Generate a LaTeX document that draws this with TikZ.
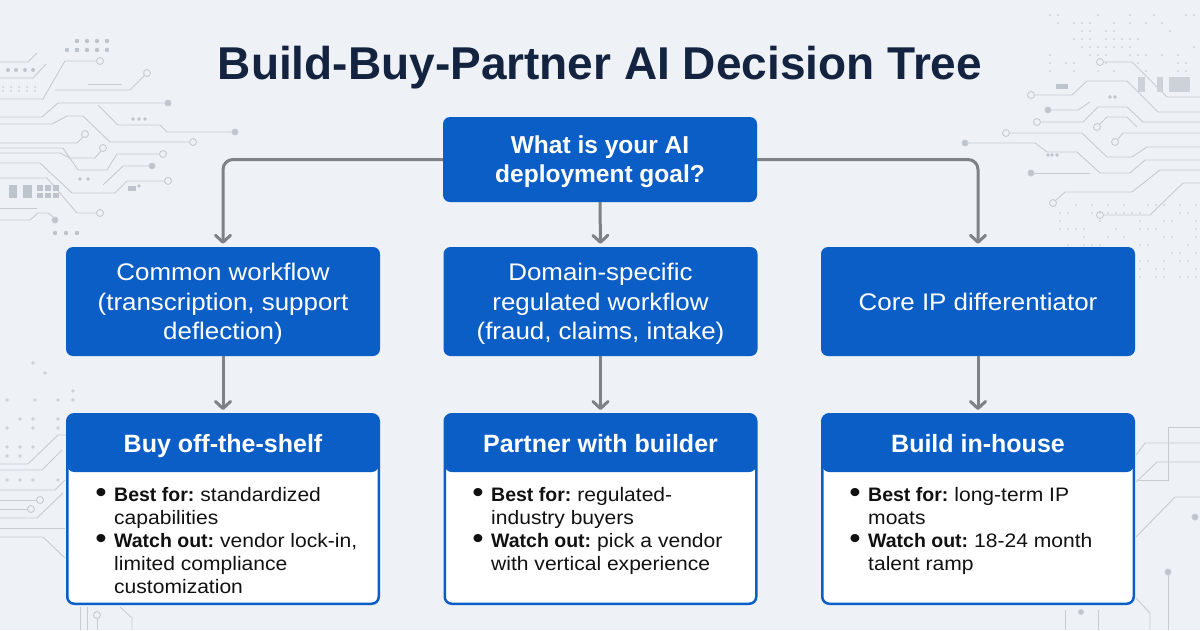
\documentclass[tikz,border=0pt]{standalone}
\usepackage{fontspec}
\setmainfont{Liberation Sans}[UprightFeatures={FakeStretch=1.08},BoldFeatures={FakeStretch=1.0}]
\newfontfamily\titlefont{Liberation Sans}
\usetikzlibrary{arrows.meta}
\definecolor{bg}{HTML}{EEF1F5}
\definecolor{mainblue}{HTML}{0C5EC7}
\definecolor{navy}{HTML}{14233F}
\definecolor{conncol}{HTML}{7E8287}
\definecolor{deco}{HTML}{C7CCD3}
\definecolor{decodot}{HTML}{BEC4CC}
\definecolor{decofaint}{HTML}{CDD2D9}
\definecolor{bodytext}{HTML}{111111}
\newcommand\bitem{\llap{\raisebox{-1.5pt}{\fontsize{30}{23}\selectfont\textbullet}\hspace{7.5pt}}}
\newcommand\lbl[1]{\textbf{#1}\hspace{6pt}}
\tikzset{
  qbox/.style={rectangle, rounded corners=7pt, fill=mainblue, text=white, align=center, inner sep=0pt, minimum width=314pt},
  rootbox/.style={qbox, minimum height=85pt, font=\bfseries\fontsize{24.5}{29}\selectfont},
  choicebox/.style={qbox, minimum height=109pt, font=\fontsize{24}{29.5}\selectfont},
  resultbox/.style={rectangle, rounded corners=7pt, draw=mainblue, line width=2.5pt, fill=white,
    minimum width=311.5pt, minimum height=189.5pt, inner sep=0pt,
    path picture={\fill[mainblue] (path picture bounding box.north west) rectangle ([yshift=-57.75pt]path picture bounding box.north east);}},
  hdr/.style={anchor=base, text=white, font=\bfseries\fontsize{25}{30}\selectfont, inner sep=0pt},
  bodytxt/.style={anchor=base west, text=bodytext, font=\fontsize{19.5}{23}\selectfont, inner sep=0pt},
  conn/.style={draw=conncol, line width=3pt, -{Straight Barb[length=7pt,width=15pt,round]}, shorten >=3pt},
  decoline/.style={draw=deco, line width=0.9pt},
  decoring/.style={draw=deco, line width=0.9pt, fill=bg},
  decofull/.style={draw=deco, line width=0.9pt, fill=decodot},
}
\begin{document}
\begin{tikzpicture}[x=1pt,y=-1pt]
\fill[bg] (0,0) rectangle (1200,630);
\useasboundingbox (0,0) rectangle (1200,630);

% ---------- decorative circuit pattern ----------
\begin{scope}
% left top
\draw[decoline] (0,62)--(28,62)--(37,53);
\draw[decoline] (0,78)--(33,78)--(46,64);
\draw[decoline] (0,99)--(43,99)--(65,61)--(96.5,61);
\draw[decoring] (100,61) circle (3.5pt);
\draw[decoline] (55,90)--(130,90)--(144.5,75.5);
\draw[decoring] (147,73) circle (3.5pt);
\draw[decoline] (88,84)--(122,84);
\draw[decoline] (0,117)--(42,117)--(58,103)--(164.5,103);
\draw[decofull] (168,103) circle (3pt);
\draw[decoline] (98,105)--(118,125)--(160,125)--(167,132)--(231.5,132);
\draw[decofull] (235,132) circle (3pt);
\draw[decoline] (0,124)--(52,124)--(67,116)--(83,116)--(110,142)--(189.5,142);
\draw[decoring] (193,142) circle (3.5pt);
\draw[decoline] (0,143)--(77,143)--(83,137);
\draw[decoring] (85,134) circle (3.5pt);
\draw[decoline] (0,148)--(63,148)--(78,170)--(107,170)--(117,154)--(159.5,154);
\draw[decoring] (163,154) circle (3.5pt);
\draw[decoline] (0,153)--(60,153)--(70,158)--(95,158)--(101,151);
\draw[decoring] (103,148) circle (3.5pt);
\draw[decoline] (0,163)--(40,163)--(72,193)--(115,193)--(127,181)--(164.5,181);
\draw[decoring] (168,181) circle (3.5pt);
\draw[decoline] (103,185)--(123,166)--(148.5,166);
\draw[decofull] (152,166) circle (3pt);
\draw[decoline] (0,178)--(47,178)--(77,213)--(96.5,213);
\draw[decoring] (100,213) circle (3.5pt);
\draw[decoline] (0,208)--(37,208);
\draw[decoline] (0,220)--(30,220)--(38,213)--(48,213)--(53,217);
\draw[decofull] (55,220) circle (3pt);
\foreach \x in {77,87,97,107} \fill[decodot] (\x,41) circle (2.2pt);
\foreach \x in {67,87,97,107} \fill[decodot] (\x,50) circle (2.2pt);
\fill[decodot] (75,48) rectangle (79,52);
\foreach \x in {8,16,25,33} \fill[decodot] (\x,70) circle (2pt);
\foreach \x in {3,11,19,27,35} {\fill[decofaint] (\x,87) circle (1.1pt); \fill[decofaint] (\x,91) circle (1.1pt);}
\foreach \x in {133,139,145} \fill[decodot] (\x,119) circle (1.8pt);
\foreach \x in {80,88} \fill[decodot] (\x,179) circle (1.8pt);
\foreach \x in {55,66,77} \fill[decodot] (\x,233) circle (2.2pt);
\fill[decodot] (128,186) rectangle (136,191);
\fill[decodot] (139,186) circle (1.8pt);
\fill[decodot] (9,185) rectangle (17,198);
\fill[decodot] (23,185) rectangle (32,198);
\foreach \x in {37,45,53} {\fill[decodot] (\x,185) rectangle (\x+6,191); \fill[decodot] (\x,193) rectangle (\x+6,198);}
% right top
\draw[decoline] (1103.5,62)--(1132,62)--(1167,97)--(1200,97);
\draw[decoring] (1100,62) circle (3.5pt);
\draw[decoline] (1034.5,95)--(1072,95)--(1087,81)--(1127,81)--(1158,112)--(1200,112);
\draw[decoring] (1031,95) circle (3.5pt);
\draw[decoline] (1051.5,110)--(1078,110)--(1090,102);
\draw[decofull] (1048,110) circle (3pt);
\draw[decoline] (1040.5,122)--(1083,122)--(1098,107)--(1127,107)--(1143,122)--(1200,122);
\draw[decoring] (1037,122) circle (3.5pt);
\draw[decoline] (1099.5,124.5)--(1107,117)--(1127,117)--(1137,127);
\draw[decoring] (1097,127) circle (3.5pt);
\draw[decoline] (1009.5,133)--(1082,133)--(1107,157)--(1132,157)--(1147,147)--(1200,147);
\draw[decoring] (1006,133) circle (3.5pt);
\draw[decoline] (1117.5,139.5)--(1123,133)--(1200,133);
\draw[decoring] (1115,142) circle (3.5pt);
\draw[decoline] (968,143)--(1035,143)--(1047,152)--(1077,152)--(1100,173)--(1130,173)--(1145,160)--(1200,160);
\draw[decofull] (965,143) circle (3pt);
\draw[decoline] (1034,173)--(1090,173);
\draw[decofull] (1031,173) circle (3pt);
\draw[decoline] (1055.5,200.5)--(1065,192)--(1132,192)--(1160,170)--(1200,170);
\draw[decoring] (1053,203) circle (3.5pt);
\draw[decoline] (1103.5,215)--(1150,215)--(1183,183)--(1200,183);
\draw[decoring] (1100,215) circle (3.5pt);
\foreach \x in {1048,1052,1057} \fill[decodot] (\x,155) circle (1.8pt);
\foreach \x in {1110,1115} \fill[decodot] (\x,97) circle (1.8pt);
\fill[decofaint] (1138,77) rectangle (1145,92);
\fill[decofaint] (1157,77) rectangle (1163,92);
\fill[decofaint] (1169,77) rectangle (1190,92);
\fill[decodot] (1056,84) rectangle (1068,89);
\pgfmathsetseed{7}
\foreach \x in {1050,1058,...,1194} \foreach \y in {15,23,...,71} {
  \pgfmathtruncatemacro\keep{rnd>0.6}
  \ifnum\keep=1 \fill[decofaint] (\x,\y) circle (1pt); \fi}
\foreach \x in {1060,1068,...,1196} \foreach \y in {205,213,...,277} {
  \pgfmathtruncatemacro\keep{rnd>0.55}
  \ifnum\keep=1 \fill[decofaint] (\x,\y) circle (1pt); \fi}
% left bottom
\foreach \p in {(33,363),(45,373),(73,391),(7,400),(35,400),(58,400),(73,400),(20,419),(33,419),(58,419),(7,428),(33,428),(58,428),(7,447),(20,447),(33,447),(7,456),(20,456),(7,480),(20,480),(33,480),(58,480)}
  \fill[decofaint] \p circle (1.8pt);
\draw[decoline] (0,464)--(28,464)--(58,435)--(66,435);
\draw[decoline] (0,470)--(42,470)--(62,450);
\draw[decoline] (0,490)--(55,490)--(65,480);
\draw[decoline] (0,500)--(36.5,500);
\draw[decoring] (40,500) circle (3.5pt);
\draw[decoline] (0,509)--(27.5,509);
\draw[decoring] (31,509) circle (3.5pt);
\draw[decoline] (0,518)--(37,518)--(63,493);
\draw[decoline] (0,528)--(65,528);
\draw[decoline] (0,537)--(43,537)--(65,558);
\draw[decoline] (80,607)--(80,630);
\draw[decoline] (87,607)--(87,630);
\draw[decoline] (97,618.5)--(97,630);
\draw[decoring] (97,615) circle (3.5pt);
\draw[decoline] (120,607)--(132,618)--(132,630);
% right bottom
\draw[decoline] (1136,455)--(1145,443)--(1200,443);
\draw[decoline] (1200,427)--(1168,427)--(1168,480)--(1137,480);
\draw[decoline] (1136,482)--(1157,462)--(1200,462);
\draw[decoline] (1136,537)--(1175,497)--(1200,497);
\draw[decofull] (1195,517) circle (3pt);
\draw[decofull] (1168,572) circle (3pt);
\draw[decoline] (1168,575)--(1168,630);
\draw[decoline] (1136,598)--(1150,613)--(1150,630);
\draw[decoline] (1065,610)--(1065,630);
\draw[decoline] (1098,610)--(1098,630);
\draw[decofull] (1081,612) circle (2.5pt);
\end{scope}

% ---------- title ----------
\node[anchor=base, text=navy, font=\titlefont\bfseries\fontsize{46}{50}\selectfont, inner sep=0pt] (title) at (600,79) {Build-Buy-Partner AI Decision Tree};

% ---------- decision nodes ----------
\node[rootbox] (root) at (600,159.5) {\rule{0pt}{22pt}What is your AI\\deployment goal?};
\node[choicebox] (c1) at (223,301.5) {\rule{0pt}{22pt}Common workflow\\(transcription, support\\deflection)};
\node[choicebox] (c2) at (600.5,301.5) {\rule{0pt}{22pt}Domain-specific\\regulated workflow\\(fraud, claims, intake)};
\node[choicebox] (c3) at (978,301.5) {Core IP differentiator};

% ---------- result boxes ----------
\node[resultbox] (r1) at (223,509) {};
\node[resultbox] (r2) at (600.5,509) {};
\node[resultbox] (r3) at (978,509) {};
\node[hdr] (h1) at (223,452) {Buy off-the-shelf};
\node[hdr] (h2) at (600.5,452) {Partner with builder};
\node[hdr] (h3) at (978,452) {Build in-house};
\node[bodytxt] (b1) at (114,501) {\begin{tabular}[t]{@{}l@{}}\bitem\lbl{Best for:}standardized\\capabilities\\\bitem\lbl{Watch out:}vendor lock-in,\\limited compliance\\customization\end{tabular}};
\node[bodytxt] (b2) at (491,501) {\begin{tabular}[t]{@{}l@{}}\bitem\lbl{Best for:}regulated-\\industry buyers\\\bitem\lbl{Watch out:}pick a vendor\\with vertical experience\end{tabular}};
\node[bodytxt] (b3) at (868,501) {\begin{tabular}[t]{@{}l@{}}\bitem\lbl{Best for:}long-term IP\\moats\\\bitem\lbl{Watch out:}18-24 month\\talent ramp\end{tabular}};

% ---------- connectors ----------
\draw[conn, rounded corners=10pt] (root.west) -| (c1.north);
\draw[conn, rounded corners=10pt] (root.east) -| (c3.north);
\draw[conn] (root.south) -- (c2.north);
\draw[conn] (c1.south) -- (r1.north);
\draw[conn] (c2.south) -- (r2.north);
\draw[conn] (c3.south) -- (r3.north);
\end{tikzpicture}
\end{document}
